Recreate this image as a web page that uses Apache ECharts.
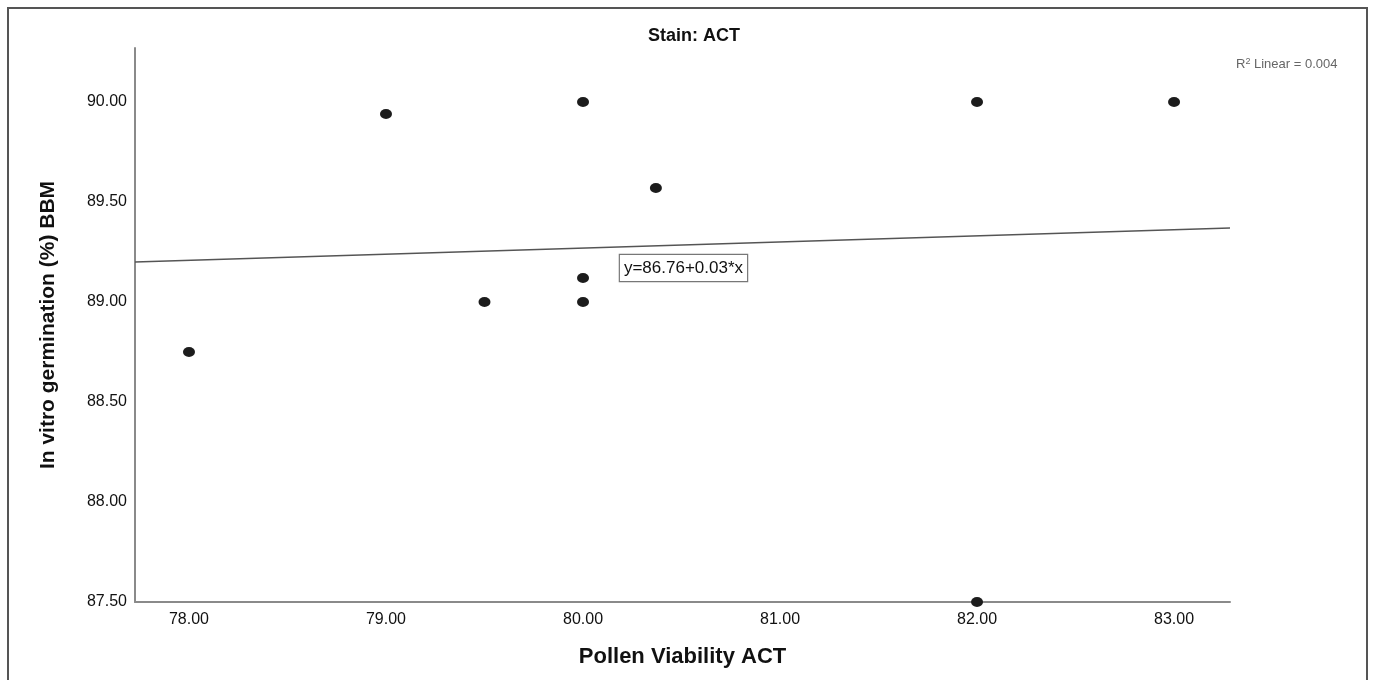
<!DOCTYPE html>
<html>
<head>
<meta charset="utf-8">
<script src="https://cdn.jsdelivr.net/npm/echarts@6/dist/echarts.min.js"></script>
<style>
  html, body { margin: 0; padding: 0; background: #fff; }
  #chart { width: 1373px; height: 680px; }
</style>
</head>
<body>
<div id="chart"></div>
<script>
  // points
  var viability = [78.00, 79.00, 79.50, 80.00, 80.00, 80.00, 80.37, 82.00, 82.00, 83.00];
  var germination = [88.75, 89.94, 89.00, 90.00, 89.12, 89.00, 89.57, 90.00, 87.50, 90.00];
  var xTicks = [78, 79, 80, 81, 82, 83];
  var yTicks = [87.5, 88, 88.5, 89, 89.5, 90];
  // fit line end points (at the axis edges)
  var fitX = [77.726, 83.284];
  var fitY = [89.20, 89.37];
  var fitLabel = 'y=86.76+0.03*x';
  var fitLabelAt = [80.51, 89.17];

  var chart = echarts.init(document.getElementById('chart'));

  var points = viability.map(function (v, i) { return [v, germination[i]]; });
  var fitLine = fitX.map(function (v, i) { return [v, fitY[i]]; });

  var option = {
    backgroundColor: '#fff',
    animation: false,
    title: [{
      text: 'Stain: ACT',
      left: 689,
      textAlign: 'center',
      top: 22,
      textStyle: { fontFamily: 'Liberation Sans', fontSize: 18, fontWeight: 'bold', color: '#111' }
    }, {
      text: '{r|R}{s|2}{r| Linear = 0.004}',
      left: 1231,
      top: 52,
      textStyle: {
        rich: {
          r: { fontFamily: 'Liberation Sans', fontSize: 13, color: '#666', fontWeight: 'normal' },
          s: { fontFamily: 'Liberation Sans', fontSize: 9, color: '#666', fontWeight: 'normal', verticalAlign: 'top', padding: [0, 0, 6, 0] }
        },
        fontFamily: 'Liberation Sans', fontSize: 13, color: '#666', fontWeight: 'normal'
      }
    }],
    graphic: [{
      type: 'rect',
      shape: { x: 8, y: 8, width: 1359, height: 700 },
      style: { fill: 'none', stroke: '#555', lineWidth: 2 },
      silent: true
    }],
    grid: { left: 135, right: 143, top: 48, bottom: 78 },
    xAxis: {
      type: 'value',
      min: 77.726,
      max: 83.284,
      name: 'Pollen Viability ACT',
      nameLocation: 'middle',
      nameGap: 44,
      nameTextStyle: { fontFamily: 'Liberation Sans', fontSize: 22, fontWeight: 'bold', color: '#111' },
      axisLine: { show: true, lineStyle: { color: '#8a8a8a', width: 2 } },
      axisTick: { show: false, customValues: xTicks },
      splitLine: { show: false },
      axisLabel: {
        customValues: xTicks,
        margin: 10,
        fontFamily: 'Liberation Sans', fontSize: 16, color: '#111',
        formatter: function (v) { return v.toFixed(2); }
      }
    },
    yAxis: {
      type: 'value',
      min: 87.5,
      max: 90.27,
      name: 'In vitro germination (%) BBM',
      nameLocation: 'middle',
      nameGap: 76,
      nameRotate: 90,
      nameTextStyle: { fontFamily: 'Liberation Sans', fontSize: 21, fontWeight: 'bold', color: '#111' },
      axisLine: { show: true, lineStyle: { color: '#8a8a8a', width: 2 } },
      axisTick: { show: false, customValues: yTicks },
      splitLine: { show: false },
      axisLabel: {
        customValues: yTicks,
        margin: 8,
        fontFamily: 'Liberation Sans', fontSize: 16, color: '#111',
        formatter: function (v) { return v.toFixed(2); }
      }
    },
    series: [{
      type: 'line',
      data: fitLine,
      symbol: 'none',
      lineStyle: { color: '#555', width: 1.3 },
      z: 2,
      markPoint: {
        symbol: 'rect',
        symbolSize: 1,
        itemStyle: { color: 'rgba(0,0,0,0)' },
        label: {
          show: true,
          position: 'inside',
          formatter: fitLabel,
          fontFamily: 'Liberation Sans', fontSize: 17, color: '#111',
          backgroundColor: '#fff',
          borderColor: '#777',
          borderWidth: 1.2,
          padding: [5, 4, 4, 4]
        },
        data: [{ coord: fitLabelAt }]
      }
    }, {
      type: 'scatter',
      data: points,
      symbol: 'circle',
      symbolSize: [12, 10],
      itemStyle: { color: '#1c1c1c', opacity: 1 },
      z: 3
    }]
  };

  chart.setOption(option);
</script>
</body>
</html>
